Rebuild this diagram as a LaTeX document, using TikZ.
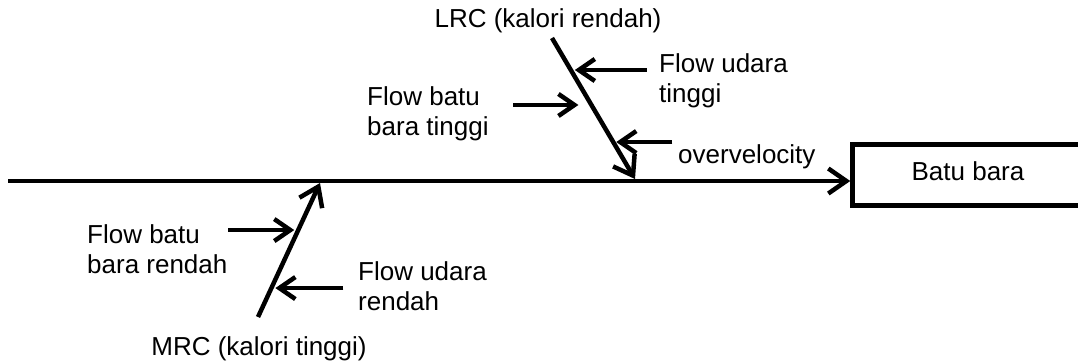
\documentclass[tikz,border=0pt]{standalone}
\usepackage{fontspec}
\setmainfont{Liberation Sans}
\usetikzlibrary{arrows.meta,calc}

\begin{document}
\begin{tikzpicture}[
  x=1pt, y=-1pt,
  txt/.style={inner sep=0pt, align=left, font=\fontsize{26}{30}\selectfont},
  effect/.style={draw, line width=4.5pt, minimum width=231pt, minimum height=61pt,
                 text height=19pt, text depth=9pt, txt},
  bone/.style={line width=4.5pt, -{Straight Barb[length=18pt,width=25pt]}},
  >={Straight Barb[length=16pt,width=22pt]}
]
  \useasboundingbox (0,0) rectangle (1078,360);

  \node[effect] (coal) at (968,175) {Batu bara};

  % spine and the two bones
  \coordinate (tail) at (8,181);
  \coordinate (lrcTop) at (552,38);
  \coordinate (lrcHead) at (635,179);
  \coordinate (mrcFoot) at (258,317);
  \coordinate (mrcHead) at (320,183);

  \draw[bone] (tail) -- (tail -| coal.west);
  \draw[bone] (lrcTop) -- (lrcHead);
  \draw[bone] (mrcFoot) -- (mrcHead);

  % causes
  \coordinate (uHigh) at ($(lrcTop)!0.227!(lrcHead)$);
  \coordinate (bHigh) at ($(lrcTop)!0.475!(lrcHead)$);
  \coordinate (over) at ($(lrcTop)!0.738!(lrcHead)$);
  \coordinate (bLow) at ($(mrcFoot)!0.649!(mrcHead)$);
  \coordinate (uLow) at ($(mrcFoot)!0.216!(mrcHead)$);

  \draw[->,line width=4.5pt] ($(uHigh)+(76,0)$) -- ($(uHigh)+(4,0)$);
  \draw[->,line width=4.5pt] ($(bHigh)+(-78,0)$) -- ($(bHigh)+(-13,0)$);
  \draw[->,line width=4.5pt] ($(over)+(59,0)$) -- ($(over)+(3,0)$);
  \draw[->,line width=4.5pt] ($(bLow)+(-70,0)$) -- ($(bLow)+(-4,0)$);
  \draw[->,line width=4.5pt] ($(uLow)+(72,0)$) -- ($(uLow)+(4,0)$);

  \node[txt, anchor=base] (lrcLbl) at (548,27) {LRC (kalori rendah)};
  \node[txt, anchor=base] (mrcLbl) at (259,355) {MRC (kalori tinggi)};
  \node[txt, anchor=north west] (uHighLbl) at (659,53) {Flow udara\\tinggi};
  \node[txt, anchor=north west] (bHighLbl) at (367,86) {Flow batu\\bara tinggi};
  \node[txt, anchor=base west] (overLbl) at (678,163) {overvelocity};
  \node[txt, anchor=north west] (bLowLbl) at (87,224) {Flow batu\\bara rendah};
  \node[txt, anchor=north west] (uLowLbl) at (358,261) {Flow udara\\rendah};
\end{tikzpicture}
\end{document}
